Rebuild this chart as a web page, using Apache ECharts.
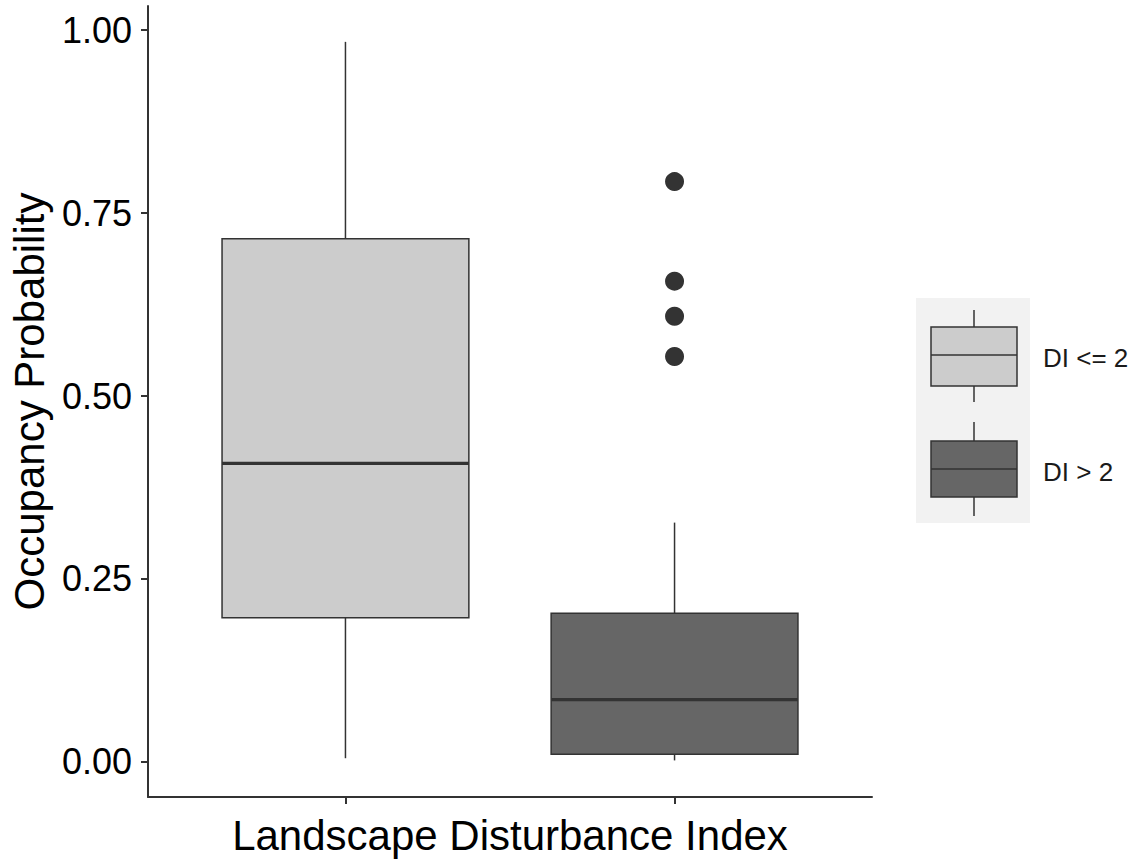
<!DOCTYPE html>
<html>
<head>
<meta charset="utf-8">
<script src="https://cdn.jsdelivr.net/npm/echarts@6/dist/echarts.min.js"></script>
<style>
html,body{margin:0;padding:0;background:#fff;}
#chart{width:1136px;height:861px;}
</style>
</head>
<body>
<div id="chart"></div>
<script>
// ---- data ----
const categories = ['DI <= 2', 'DI > 2'];
const lowerWhisker = [0.005, 0.002];
const q1 = [0.197, 0.0105];
const median = [0.408, 0.085];
const q3 = [0.715, 0.203];
const upperWhisker = [0.984, 0.327];
const outlierGroup = [1, 1, 1, 1];          // index into categories
const outlierValues = [0.793, 0.657, 0.609, 0.554];
const yTickValues = [0, 0.25, 0.5, 0.75, 1.0];
const xAxisTitle = 'Landscape Disturbance Index';
const yAxisTitle = 'Occupancy Probability';

// ---- styles ----
const fills = ['#CCCCCC', '#666666'];
const lineColor = '#333333';
const FONT = '"Liberation Sans", Arial, sans-serif';

const boxData = categories.map((c, i) => [i + 1, lowerWhisker[i], q1[i], median[i], q3[i], upperWhisker[i], i]);
const outlierData = outlierValues.map((v, i) => [outlierGroup[i] + 1, v]);

function renderBox(params, api) {
  const x = api.value(0);
  const idx = api.value(6);
  const pLo = api.coord([x, api.value(1)]);
  const pQ1 = api.coord([x, api.value(2)]);
  const pMed = api.coord([x, api.value(3)]);
  const pQ3 = api.coord([x, api.value(4)]);
  const pHi = api.coord([x, api.value(5)]);
  const half = api.size([0.75, 0])[0] / 2;
  const cx = pMed[0];
  return {
    type: 'group',
    children: [
      { type: 'line', shape: { x1: cx, y1: pQ1[1], x2: cx, y2: pLo[1] }, style: { stroke: lineColor, lineWidth: 1.5 } },
      { type: 'line', shape: { x1: cx, y1: pQ3[1], x2: cx, y2: pHi[1] }, style: { stroke: lineColor, lineWidth: 1.5 } },
      { type: 'rect', shape: { x: cx - half, y: pQ3[1], width: 2 * half, height: pQ1[1] - pQ3[1] },
        style: { fill: fills[idx], stroke: lineColor, lineWidth: 1.5 } },
      { type: 'line', shape: { x1: cx - half, y1: pMed[1], x2: cx + half, y2: pMed[1] }, style: { stroke: lineColor, lineWidth: 3.2 } }
    ]
  };
}

// ---- legend (graphic) ----
const legendKeys = [
  { wTop: 310, bTop: 327, med: 355, bBot: 386, wBot: 402, textY: 358 },
  { wTop: 422, bTop: 441, med: 469, bBot: 497, wBot: 516, textY: 472 }
];
const legendGraphic = [
  { type: 'rect', shape: { x: 916, y: 298, width: 114, height: 225 }, style: { fill: '#F2F2F2' }, silent: true }
];
categories.forEach((c, i) => {
  const k = legendKeys[i];
  const cx = 974;
  legendGraphic.push(
    { type: 'line', shape: { x1: cx, y1: k.wTop, x2: cx, y2: k.bTop }, style: { stroke: lineColor, lineWidth: 1.5 } },
    { type: 'line', shape: { x1: cx, y1: k.bBot, x2: cx, y2: k.wBot }, style: { stroke: lineColor, lineWidth: 1.5 } },
    { type: 'rect', shape: { x: 931, y: k.bTop, width: 86, height: k.bBot - k.bTop }, style: { fill: fills[i], stroke: lineColor, lineWidth: 1.5 } },
    { type: 'line', shape: { x1: 931, y1: k.med, x2: 1017, y2: k.med }, style: { stroke: lineColor, lineWidth: 1.5 } },
    { type: 'text', x: 1043, y: k.textY, style: { text: c, fill: '#1a1a1a', font: '26px ' + FONT, textVerticalAlign: 'middle', textAlign: 'left' } }
  );
});

const chart = echarts.init(document.getElementById('chart'), null, { renderer: 'svg' });
chart.setOption({
  animation: false,
  backgroundColor: '#ffffff',
  grid: { left: 148, right: 264, top: 6, bottom: 59, containLabel: false },
  xAxis: {
    type: 'value', min: 0.4, max: 2.6,
    name: xAxisTitle, nameLocation: 'middle', nameGap: 17,
    nameTextStyle: { color: '#000', fontSize: 42, fontFamily: FONT },
    axisLine: { show: true, onZero: false, lineStyle: { color: lineColor, width: 2 } },
    axisTick: { show: true, length: 7, customValues: [1, 2], lineStyle: { color: lineColor, width: 2 } },
    axisLabel: { show: false },
    splitLine: { show: false }
  },
  yAxis: {
    type: 'value', min: -0.048, max: 1.033,
    name: yAxisTitle, nameLocation: 'middle', nameGap: 98, nameRotate: 90,
    nameTextStyle: { color: '#000', fontSize: 42, fontFamily: FONT },
    axisLine: { show: true, onZero: false, lineStyle: { color: lineColor, width: 2 } },
    axisTick: { show: true, length: 7, customValues: yTickValues, lineStyle: { color: lineColor, width: 2 } },
    axisLabel: { show: true, customValues: yTickValues, margin: 16, color: '#000', fontSize: 36, fontFamily: FONT,
      formatter: v => v.toFixed(2) },
    splitLine: { show: false }
  },
  series: [
    { type: 'custom', renderItem: renderBox, data: boxData, encode: { x: 0, y: [1, 2, 3, 4, 5] }, z: 2 },
    { type: 'scatter', data: outlierData, symbol: 'circle', symbolSize: 19, itemStyle: { color: lineColor, opacity: 1 }, z: 3 }
  ],
  graphic: legendGraphic
});
</script>
</body>
</html>
